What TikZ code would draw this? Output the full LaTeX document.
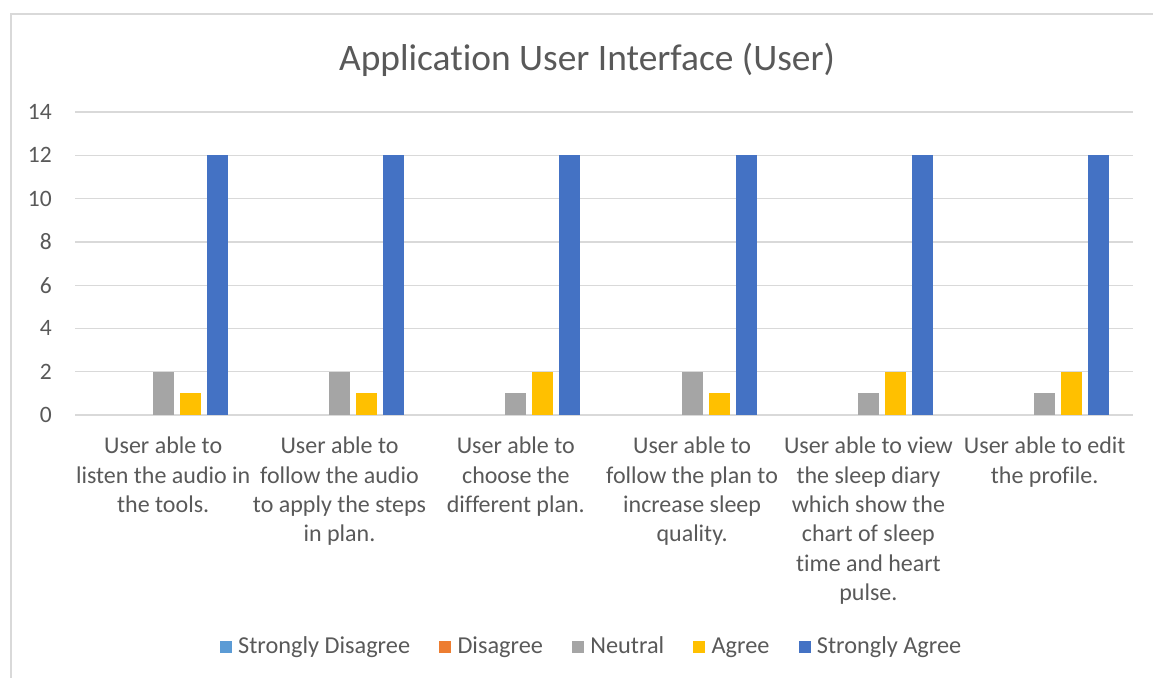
\documentclass[tikz,border=0pt]{standalone}
\usepackage{fontspec}
\setmainfont{Carlito}[Ligatures=NoCommon]
\usetikzlibrary{positioning}

\definecolor{sdis}{HTML}{5B9BD5}
\definecolor{dis}{HTML}{ED7D31}
\definecolor{neu}{HTML}{A5A5A5}
\definecolor{agr}{HTML}{FFC000}
\definecolor{sagr}{HTML}{4472C4}
\definecolor{txtgray}{HTML}{595959}
\definecolor{gridgray}{HTML}{D9D9D9}

\begin{document}
\begin{tikzpicture}[x=1pt,y=-1pt]
    % `bar' is one column of the chart, `gridline' the horizontal rules.
    % `cattext' holds the category names under the axis.
    \tikzstyle{gridline} = [draw=gridgray,line width=1.3pt]
    \tikzstyle{bar} = [inner sep=0pt,outer sep=0pt,minimum width=21pt,anchor=south]
    \tikzstyle{ticktext} = [text=txtgray,font=\fontsize{23.5}{28}\selectfont,anchor=east,inner sep=0pt]
    \tikzstyle{cattext} = [text=txtgray,font=\fontsize{24}{29.3}\selectfont,align=center,anchor=north,inner sep=0pt]
    \tikzstyle{legendkey} = [minimum size=12pt,inner sep=0pt,outer sep=0pt]
    \tikzstyle{legendtext} = [text=txtgray,font=\fontsize{24.3}{28}\selectfont,inner sep=0pt,text height=15pt,text depth=3pt]
    %
    \useasboundingbox (0,0) rectangle (1153,678);
    % Chart frame.
    \draw[gridgray,line width=1.3pt] (1153,14) -- (11,14) -- (11,678);
    % Title.
    \node[text=txtgray,font=\fontsize{37.4}{44}\selectfont,anchor=base,inner sep=0pt] (title) at (587,70) {Application User Interface (User)};
    % Grid and value axis.
    \foreach \v in {0,2,...,14} {
      \draw[gridline] (75,{415-21.64*\v}) -- (1133,{415-21.64*\v});
      \node[ticktext] (tick\v) at (52,{415-21.64*\v}) {\v};
    }
    % Bars: Neutral / Agree / Strongly Agree.
    \foreach \n/\a/\s [count=\i from 0] in {2/1/12,2/1/12,1/2/12,2/1/12,1/2/12,1/2/12} {
      \pgfmathsetmacro\cx{163.2+176.3*\i}
      \node[bar,fill=neu,minimum height={21.64*\n}] (neu\i) at (\cx,415) {};
      \node[bar,fill=agr,minimum height={21.64*\a}] (agr\i) at ({\cx+27},415) {};
      \node[bar,fill=sagr,minimum height={21.64*\s}] (sagr\i) at ({\cx+54},415) {};
    }
    % Category names.
    \node[cattext] (cat0) at (163.2,437) {User able to\\listen the audio in\\the tools.};
    \node[cattext] (cat1) at (339.5,437) {User able to\\follow the audio\\to apply the steps\\in plan.};
    \node[cattext] (cat2) at (515.8,437) {User able to\\choose the\\different plan.};
    \node[cattext] (cat3) at (692.1,437) {User able to\\follow the plan to\\increase sleep\\quality.};
    \node[cattext] (cat4) at (868.4,437) {User able to view\\the sleep diary\\which show the\\chart of sleep\\time and heart\\pulse.};
    \node[cattext] (cat5) at (1044.7,437) {User able to edit\\the profile.};
    % Legend.
    \node[legendkey,fill=sdis] (ksd) at (226,647) {};
    \node[legendtext,right=6pt of ksd] (tsd) {Strongly Disagree};
    \node[legendkey,fill=dis,right=29pt of tsd] (kd) {};
    \node[legendtext,right=6pt of kd] (td) {Disagree};
    \node[legendkey,fill=neu,right=29pt of td] (kn) {};
    \node[legendtext,right=6pt of kn] (tn) {Neutral};
    \node[legendkey,fill=agr,right=29pt of tn] (ka) {};
    \node[legendtext,right=6pt of ka] (ta) {Agree};
    \node[legendkey,fill=sagr,right=29pt of ta] (ksa) {};
    \node[legendtext,right=6pt of ksa] (tsa) {Strongly Agree};
\end{tikzpicture}
\end{document}
